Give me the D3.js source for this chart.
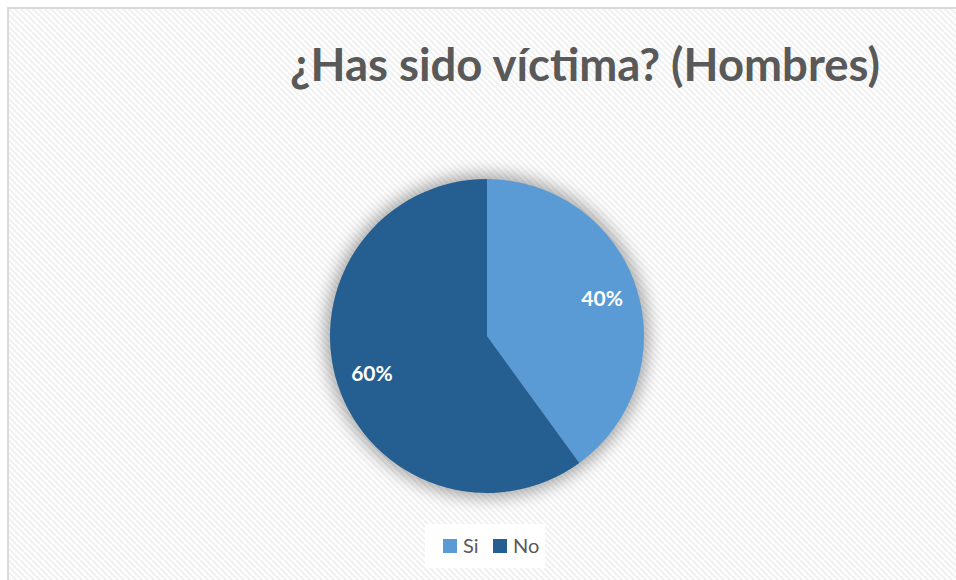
<!DOCTYPE html>
<html>
<head>
<meta charset="utf-8">
<script src="https://cdn.jsdelivr.net/npm/d3@7"></script>
<style>
html,body{margin:0;padding:0;background:#fff;}
svg{display:block;}
</style>
</head>
<body>
<svg id="chart" width="956" height="580"></svg>
<script>
const title = "¿Has sido víctima? (Hombres)";
const categories = ["Si", "No"];
const values = [40, 60];
const colors = ["#5b9bd5", "#255e91"];

const W = 956, H = 580;
const svg = d3.select("#chart");
const defs = svg.append("defs");

// diagonal hatch background
const pat = defs.append("pattern")
  .attr("id", "hatch").attr("patternUnits", "userSpaceOnUse")
  .attr("width", 6).attr("height", 6);
pat.append("rect").attr("width", 6).attr("height", 6).attr("fill", "#ffffff");
pat.append("path").attr("d", "M-1,-1 L7,7 M-4,2 L2,8 M4,-2 L8,2")
  .attr("stroke", "#f1f1f1").attr("stroke-width", 2.2);

const shadow = defs.append("filter").attr("id", "glow")
  .attr("x", "-30%").attr("y", "-30%").attr("width", "160%").attr("height", "160%");
shadow.append("feGaussianBlur").attr("stdDeviation", 8);

svg.append("rect").attr("width", W).attr("height", H).attr("fill", "#ffffff");
svg.append("rect").attr("x", 8).attr("y", 8).attr("width", W).attr("height", H)
  .attr("fill", "url(#hatch)").attr("stroke", "#d9d9d9").attr("stroke-width", 2);

// title
const t = svg.append("text")
  .attr("x", 585).attr("y", 81)
  .attr("text-anchor", "middle")
  .attr("font-family", "Lato, 'Open Sans', sans-serif")
  .attr("font-weight", "bold")
  .attr("font-size", 46)
  .attr("fill", "#595959")
  .text(title);
const tw = t.node().getComputedTextLength();
t.attr("font-size", 46 * 590 / tw);

// pie
const cx = 487, cy = 336, R = 157;
const g = svg.append("g").attr("transform", `translate(${cx},${cy})`);
const data = categories.map((c, i) => ({cat: c, value: values[i], color: colors[i]}));
const pie = d3.pie().value(d => d.value).sort(null).startAngle(0).endAngle(2 * Math.PI);
const arcs = pie(data);
const arc = d3.arc().innerRadius(0).outerRadius(R);
const labelArc = d3.arc().innerRadius(121).outerRadius(121);

g.append("circle").attr("r", R + 5).attr("fill", "#000").attr("opacity", 0.32)
  .attr("filter", "url(#glow)");
g.selectAll("path.slice").data(arcs).join("path")
  .attr("class", "slice")
  .attr("d", arc)
  .attr("fill", d => d.data.color);

const total = d3.sum(values);
g.selectAll("text.lbl").data(arcs).join("text")
  .attr("class", "lbl")
  .attr("transform", d => `translate(${labelArc.centroid(d)})`)
  .attr("text-anchor", "middle")
  .attr("dy", "0.36em")
  .attr("font-family", "Lato, 'Open Sans', sans-serif")
  .attr("font-weight", "bold")
  .attr("font-size", 21)
  .attr("fill", "#ffffff")
  .text(d => Math.round(d.data.value / total * 100) + "%");

// legend
const lg = svg.append("g");
lg.append("rect").attr("x", 425).attr("y", 524).attr("width", 120).attr("height", 44)
  .attr("fill", "#ffffff");
const items = [{x: 443}, {x: 493}];
data.forEach((d, i) => {
  lg.append("rect").attr("x", items[i].x).attr("y", 539).attr("width", 14).attr("height", 14)
    .attr("fill", d.color);
  lg.append("text").attr("x", items[i].x + 20).attr("y", 553)
    .attr("font-family", "Lato, 'Open Sans', sans-serif")
    .attr("font-size", 20)
    .attr("fill", "#595959")
    .text(d.cat);
});
</script>
</body>
</html>
